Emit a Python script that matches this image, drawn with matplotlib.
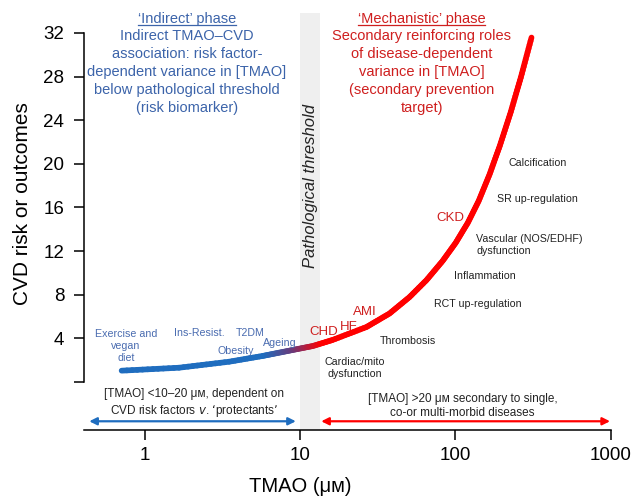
import numpy as np
import matplotlib
matplotlib.use("Agg")
import matplotlib.pyplot as plt
from matplotlib.collections import LineCollection
from matplotlib.colors import LinearSegmentedColormap
from matplotlib.lines import Line2D

plt.rcParams['font.family'] = ['Liberation Sans', 'DejaVu Sans']

# ---------------- data ----------------
tmao = [0.711, 1.665, 3.50, 5.71, 7.35, 9.46, 12.1, 16.16, 26.78, 37.69, 50.73,
        65.29, 82.81, 100.4, 120.1, 141.3, 166.4, 193.1, 227.4, 263.8, 309.2]
risk = [1.04, 1.31, 1.86, 2.38, 2.69, 3.00, 3.30, 3.85, 5.04, 6.28, 7.79,
        9.35, 11.10, 12.75, 14.58, 16.60, 19.07, 21.64, 24.76, 27.91, 31.58]

yticks = [0, 4, 8, 12, 16, 20, 24, 28, 32]
ytick_labels = ['', '4', '8', '12', '16', '20', '24', '28', '32']
xticks = [1, 10, 100, 1000]
xtick_labels = ['1', '10', '100', '1000']

threshold_band = [10, 13.5]
indirect_range = [0.44, 9.4]
mechanistic_range = [13.7, 990]

# label: (text, x, y)
blue_labels = [("Exercise and\nvegan\ndiet", 0.758, 3.30),
               ("Ins-Resist.", 2.26, 4.49),
               ("T2DM", 4.76, 4.49),
               ("Obesity", 3.88, 2.87),
               ("Ageing", 7.46, 3.58)]
red_labels = [("CHD", 14.14, 4.61),
              ("HF", 20.5, 5.07),
              ("AMI", 26.3, 6.39),
              ("CKD", 92.8, 15.01)]
black_labels = [("Cardiac/mito\ndysfunction", 22.4, 1.31),
                ("Thrombosis", 49.5, 3.79),
                ("RCT up-regulation", 139.9, 7.15),
                ("Inflammation", 154.6, 9.75),
                ("SR up-regulation", 336, 16.75),
                ("Calcification", 338, 20.05)]
vascular_label = ("Vascular (NOS/EDHF)\ndysfunction", 136.6, 12.58)

BLUE = "#1f6dbf"
RED = "#ff0000"
HBLUE = "#3c64aa"
HRED = "#cf1f1f"
LBLUE = "#4a6cb0"
DARK = "#222222"

# ---------------- figure ----------------
fig = plt.figure(figsize=(6.35, 5.0), dpi=100)
ax = fig.add_axes([84/635, 70/500, (610.7-84)/635, (430-13)/500])
ax.set_xscale('log')
ax.set_xlim(0.407, 1000)
ax.set_ylim(-4.40, 33.83)

# shaded pathological threshold band
ax.axvspan(threshold_band[0], threshold_band[1], color='#efefef', zorder=0, lw=0)
ax.text(np.sqrt(threshold_band[0]*threshold_band[1]), 18.0, "Pathological threshold",
        rotation=90, style='italic', fontsize=12, color=DARK,
        ha='center', va='center')

# gradient curve
lx = np.log10(tmao)
ly = np.array(risk)
segs, cvals = [], []
for i in range(len(lx) - 1):
    t = np.linspace(0, 1, 12)
    xs = lx[i] + (lx[i+1]-lx[i]) * t
    ys = ly[i] + (ly[i+1]-ly[i]) * t
    for j in range(len(t) - 1):
        segs.append([(10**xs[j], ys[j]), (10**xs[j+1], ys[j+1])])
        cvals.append(0.5*(xs[j]+xs[j+1]))
cvals = np.array(cvals)
frac = np.clip((cvals - np.log10(6.0)) / (np.log10(14.0) - np.log10(6.0)), 0, 1)
cmap = LinearSegmentedColormap.from_list('br', [BLUE, '#6a3a7a', RED])
lc = LineCollection(segs, colors=cmap(frac), linewidths=4.1, capstyle='round', zorder=3)
ax.add_collection(lc)

# labels
for s, x, y in blue_labels:
    ax.text(x, y, s, color=LBLUE, fontsize=7.7, ha='center', va='center', linespacing=1.3)
for s, x, y in red_labels:
    ax.text(x, y, s, color=HRED, fontsize=9.5, ha='center', va='center')
for s, x, y in black_labels:
    ax.text(x, y, s, color=DARK, fontsize=7.7, ha='center', va='center', linespacing=1.3)
ax.text(vascular_label[1], vascular_label[2], vascular_label[0], color=DARK, fontsize=7.7,
        ha='left', va='center', linespacing=1.3)

# phase headers
h1 = ax.text(1.875, 33.28, "\u2018Indirect\u2019 phase", color=HBLUE, fontsize=10.5,
             ha='center', va='center')
ax.text(1.875, 28.40, "Indirect TMAO\u2013CVD\nassociation: risk factor-\n"
        "dependent variance in [TMAO]\nbelow pathological threshold\n(risk biomarker)",
        color=HBLUE, fontsize=10.5, ha='center', va='center', linespacing=1.37)
h2 = ax.text(60.6, 33.28, "\u2018Mechanistic\u2019 phase", color=HRED, fontsize=10.5,
             ha='center', va='center')
ax.text(60.6, 28.40, "Secondary reinforcing roles\nof disease-dependent\n"
        "variance in [TMAO]\n(secondary prevention\ntarget)",
        color=HRED, fontsize=10.5, ha='center', va='center', linespacing=1.37)

# range arrows
ay = -3.6
ax.annotate("", xy=(indirect_range[0], ay), xytext=(indirect_range[1], ay),
            arrowprops=dict(arrowstyle='<|-|>', color=BLUE, lw=1.6, mutation_scale=11,
                            shrinkA=0, shrinkB=0))
ax.annotate("", xy=(mechanistic_range[0], ay), xytext=(mechanistic_range[1], ay),
            arrowprops=dict(arrowstyle='<|-|>', color=RED, lw=1.6, mutation_scale=11,
                            shrinkA=0, shrinkB=0))
ax.text(2.08, -2.0, "[TMAO] <10\u201320 \u03bc\u1d0d, dependent on\nCVD risk factors $\\it{v}$. \u2018protectants\u2019",
        color=DARK, fontsize=8.5, ha='center', va='center', linespacing=1.3)
ax.text(111.4, -2.2, "[TMAO] >20 \u03bc\u1d0d secondary to single,\nco-or multi-morbid diseases",
        color=DARK, fontsize=8.5, ha='center', va='center', linespacing=1.3)

# axes styling
for sp in ['top', 'right']:
    ax.spines[sp].set_visible(False)
ax.spines['left'].set_bounds(0, 32)
ax.spines['left'].set_linewidth(1.1)
ax.spines['bottom'].set_linewidth(1.1)
ax.set_yticks(yticks)
ax.set_yticklabels(ytick_labels)
ax.set_xticks(xticks)
ax.set_xticklabels(xtick_labels)
ax.xaxis.set_minor_locator(matplotlib.ticker.NullLocator())
ax.tick_params(axis='both', labelsize=13.5, width=1.1, length=7.2, direction='out', colors='black')
ax.tick_params(axis='y', pad=7)
ax.tick_params(axis='x', pad=5)
ax.set_ylabel("CVD risk or outcomes", fontsize=15)
ax.yaxis.set_label_coords(-0.099, 0.544)
ax.set_xlabel("TMAO (\u03bc\u1d0d)", fontsize=14.5)
ax.xaxis.set_label_coords(0.41, -0.112)

# underline the phase titles
fig.canvas.draw()
r = fig.canvas.get_renderer()
for h, c in [(h1, HBLUE), (h2, HRED)]:
    bb = h.get_window_extent(renderer=r)
    y0 = bb.y0 + 1.0
    fig.add_artist(Line2D([bb.x0/fig.dpi/6.35, bb.x1/fig.dpi/6.35],
                          [y0/fig.dpi/5.0, y0/fig.dpi/5.0],
                          transform=fig.transFigure, color=c, lw=0.9))

fig.savefig("out.png", dpi=100)
